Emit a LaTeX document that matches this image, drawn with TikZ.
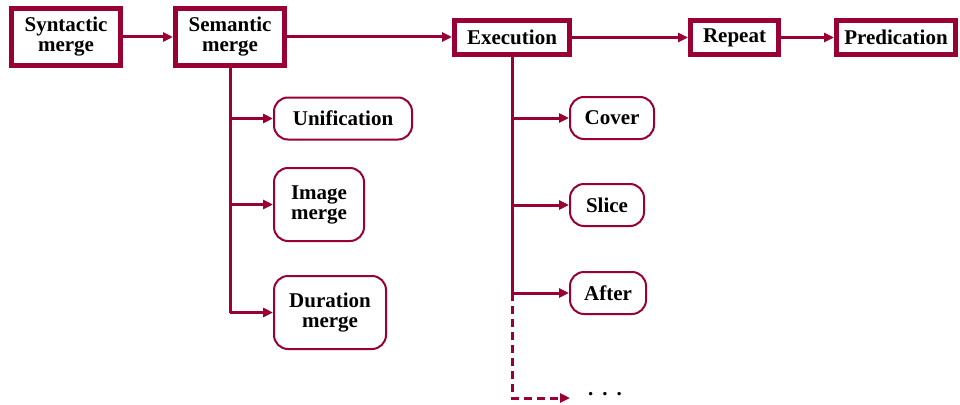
\documentclass[tikz,border=0pt]{standalone}
\usepackage{fontspec}
\setmainfont{Liberation Serif}
\usetikzlibrary{arrows.meta,positioning}
\definecolor{wine}{RGB}{153,0,51}
\tikzset{
  every node/.style={align=center,inner sep=0pt,text=black,
    font=\bfseries\fontsize{21}{20}\selectfont},
}

\begin{document}
\begin{tikzpicture}[x=1pt,y=-1pt,color=wine,line width=3pt,
    >={Triangle[length=10pt,width=9pt]},
    mainbox/.style={draw,line width=5pt,minimum height=#1},
    mainbox/.default=34pt,
    subbox/.style={draw,line width=2pt,rounded corners=14pt,minimum height=#1},
    subbox/.default=42pt]
  \useasboundingbox (0,0) rectangle (960,404);
  % top row
  \node[mainbox=57pt,minimum width=109pt] (syn) at (66,37) {Syntactic\\merge};
  \node[mainbox=57pt,minimum width=109pt] (sem) at (230,37) {Semantic\\merge};
  \node[mainbox,minimum width=115pt] (exe) at (512,37.5) {Execution};
  \node[mainbox,minimum width=88pt] (rep) at (734.5,37.5) {Repeat};
  \node[mainbox,minimum width=119pt] (pred) at (896,37.5) {Predication};
  \draw[->] (syn) -- (sem);
  \draw[->] (sem.east) -- (sem.east -| exe.west);
  \draw[->] (exe) -- (rep);
  \draw[->] (rep) -- (pred);
  % semantic merge
  \node[subbox,minimum width=138pt] (uni) at (343,118.5) {Unification};
  \node[subbox=73pt,minimum width=90pt] (img) at (319,204.5) {Image\\merge};
  \node[subbox=73pt,minimum width=112pt] (dur) at (330,312.5) {Duration\\merge};
  \draw (sem.south) -- (sem.south |- dur.west);
  \foreach \n in {uni,img,dur}
    \draw[->] (sem.south |- \n.west) -- (\n.west);
  % execution
  \node[subbox,minimum width=84pt] (cov) at (612,118) {Cover};
  \node[subbox,minimum width=74pt] (sli) at (607,205) {Slice};
  \node[subbox,minimum width=76pt] (aft) at (608,293) {After};
  \node (more) at (605,394) {.\hspace{9pt}.\hspace{9pt}.};
  \coordinate (tail) at (570,398);
  \draw (exe.south) -- (exe.south |- aft.west);
  \foreach \n in {cov,sli,aft}
    \draw[->] (exe.south |- \n.west) -- (\n.west);
  \draw[->,dash pattern=on 8pt off 5pt] (exe.south |- aft.west) |- (tail);
\end{tikzpicture}
\end{document}
